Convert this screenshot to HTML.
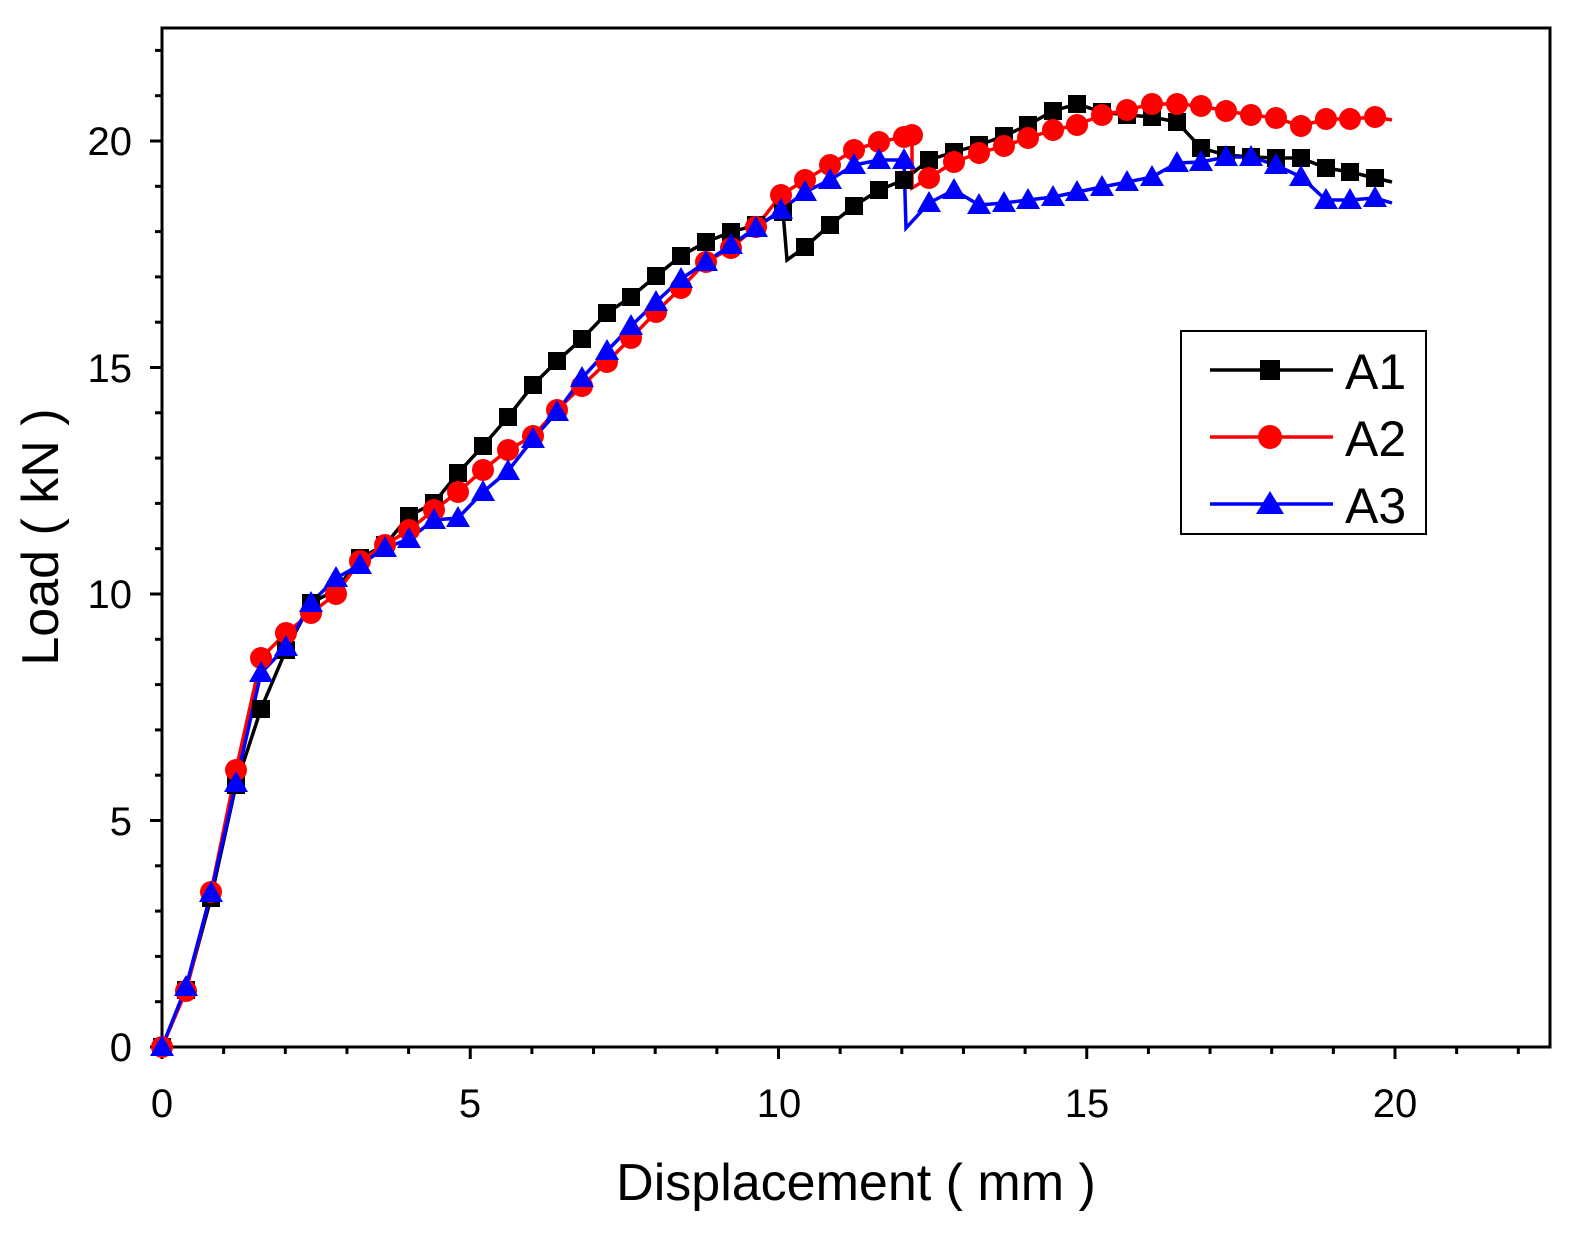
<!DOCTYPE html>
<html><head><style>html,body{margin:0;background:#fff;overflow:hidden}svg{display:block}</style></head><body>
<svg width="1580" height="1235" viewBox="0 0 1580 1235" xmlns="http://www.w3.org/2000/svg" font-family="Liberation Sans, sans-serif">
<rect width="1580" height="1235" fill="#fff"/>
<g id="ticks" stroke="#000" stroke-width="3">
</g>
<rect x="162" y="28" width="1388" height="1019" fill="none" stroke="#000" stroke-width="3"/>
<g font-size="40" text-anchor="middle">
<text x="162" y="1117">0</text><text x="470" y="1117">5</text><text x="779" y="1117">10</text><text x="1087" y="1117">15</text><text x="1395" y="1117">20</text>
</g>
<g font-size="40" text-anchor="end">
<text x="132" y="1061">0</text><text x="132" y="835">5</text><text x="132" y="608">10</text><text x="132" y="382">15</text><text x="132" y="155">20</text>
</g>
<text x="856" y="1200" font-size="52" text-anchor="middle">Displacement ( mm )</text>
<text transform="translate(58,537) rotate(-90)" font-size="52" text-anchor="middle">Load ( kN )</text>
<g fill="none" stroke-width="3.5">
<polyline id="a1" stroke="#000" points="162,1047 186,990 211,898 236,785 261,709 286,650 311,603 336,590 360,558 385,545 409,516 434,503 458,473 483,446 508,417 533,385 557,361 582,339 607,313 631,297 656,276 681,256 706,242 731,232 756,225 783,212 787,260 805,247 830,225 854,206 879,190 904,180 929,160 954,152 979,145 1004,136 1028,125 1053,111 1077,104 1102,112 1127,115 1152,117 1177,122 1201,148 1226,155 1251,157 1276,158 1301,158 1326,168 1350,172 1375,178 1392,182"/>
<polyline id="a2" stroke="#f00" points="162,1047 186,991 211,892 236,770 261,658 286,633 311,613 336,594 360,561 385,545 409,530 434,510 458,492 483,470 508,450 533,436 557,410 582,386 607,362 631,338 656,312 681,288 706,262 731,248 756,227 781,195 805,180 830,165 854,150 879,142 904,137 912,135 912,188 929,178 954,162 979,153 1004,146 1028,138 1053,130 1077,125 1102,115 1127,110 1152,104 1177,104 1201,106 1226,111 1251,115 1276,118 1301,126 1326,119 1350,119 1375,117 1392,120"/>
<polyline id="a3" stroke="#00f" points="162,1047 186,987 211,893 236,783 261,673 286,647 311,603 336,578 360,565 385,548 409,539 434,520 458,518 483,492 508,471 533,439 557,412 582,378 607,351 631,326 656,302 681,279 706,262 731,245 756,228 781,210 805,192 830,180 854,165 879,160 904,160 906,228 929,203 954,190 979,205 1004,203 1028,200 1053,197 1077,192 1102,187 1127,182 1152,177 1177,163 1201,162 1226,157 1251,157 1276,165 1301,177 1326,200 1350,200 1375,198 1392,203"/>
</g>
<g id="marks"></g>
<rect x="1181" y="331" width="245" height="203" fill="#fff" stroke="#000" stroke-width="2"/>
<line x1="1210" y1="370" x2="1333" y2="370" stroke="#000" stroke-width="3.5"/>
<rect x="1260" y="360" width="20" height="20" fill="#000"/>
<line x1="1210" y1="437" x2="1333" y2="437" stroke="#f00" stroke-width="3.5"/>
<circle cx="1270" cy="437" r="12" fill="#f00"/>
<line x1="1210" y1="504" x2="1333" y2="504" stroke="#00f" stroke-width="3.5"/>
<polygon points="1270,491 1284,514 1256,514" fill="#00f"/>
<g font-size="50"><text x="1345" y="389">A1</text><text x="1345" y="456">A2</text><text x="1345" y="523">A3</text></g>
<script>
var ns="http://www.w3.org/2000/svg",t=document.getElementById("ticks"),m=document.getElementById("marks");
function L(a,b,c,d){var l=document.createElementNS(ns,"line");l.setAttribute("x1",a);l.setAttribute("y1",b);l.setAttribute("x2",c);l.setAttribute("y2",d);t.appendChild(l);}
for(var i=0;i<=22;i++){var x=162+i*61.65,maj=i%5==0;L(x,1047,x,1047+(maj?12:7));}
for(var i=0;i<=22;i++){var y=1047-i*45.3,maj=i%5==0;L(162,y,162-(maj?12:7),y);}
function pts(id){return document.getElementById(id).getAttribute("points").trim().split(/\s+/).map(function(p){return p.split(",").map(Number)});}
function skip(p){return p.filter(function(q,i){return !(i>0&&Math.abs(q[0]-p[i-1][0])<6)});}
skip(pts("a1")).forEach(function(p){if(p[0]>1380)return;var r=document.createElementNS(ns,"rect");r.setAttribute("x",p[0]-9);r.setAttribute("y",p[1]-9);r.setAttribute("width",18);r.setAttribute("height",18);m.appendChild(r);});
skip(pts("a2")).forEach(function(p){if(p[0]>1380)return;var c=document.createElementNS(ns,"circle");c.setAttribute("cx",p[0]);c.setAttribute("cy",p[1]);c.setAttribute("r",11);c.setAttribute("fill","#f00");m.appendChild(c);});
skip(pts("a3")).forEach(function(p){if(p[0]>1380)return;var g=document.createElementNS(ns,"polygon");g.setAttribute("points",p[0]+","+(p[1]-12)+" "+(p[0]+12)+","+(p[1]+9)+" "+(p[0]-12)+","+(p[1]+9));g.setAttribute("fill","#00f");m.appendChild(g);});
</script>
</svg>
</body></html>
